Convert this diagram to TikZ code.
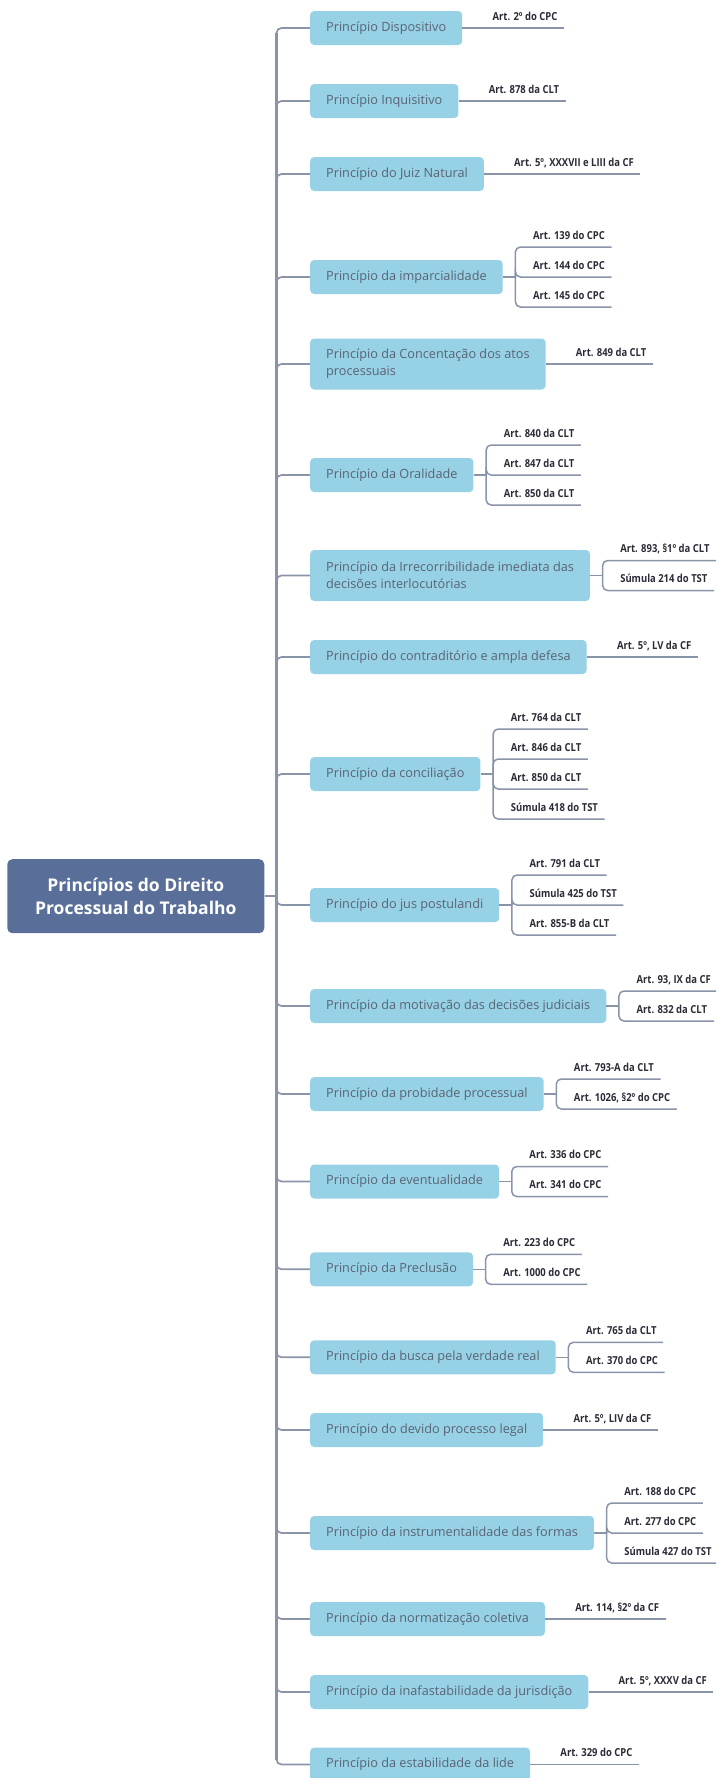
\documentclass[tikz,border=0pt]{standalone}
\usepackage{fontspec}
\setmainfont{Open Sans}
\newfontfamily\lblfont{Open Sans}[FakeStretch=0.86]
\usetikzlibrary{calc}
\definecolor{boxfill}{HTML}{96D1E6}
\definecolor{rootfill}{HTML}{596F99}
\definecolor{linec}{HTML}{8A94A8}
\definecolor{boxtext}{HTML}{5A6473}
\definecolor{lbltext}{HTML}{2B2B38}
\begin{document}
\begin{tikzpicture}[x=1pt,y=-1pt,
  pbox/.style={fill=boxfill, rounded corners=4pt, inner xsep=16pt, inner ysep=0pt, minimum height=34pt, anchor=west, text=boxtext, font=\fontsize{12.7}{17}\selectfont, align=left},
  pbox2/.style={pbox, minimum height=51pt},
  rootbox/.style={fill=rootfill, rounded corners=5pt, minimum width=257pt, minimum height=74pt, text=white, font=\fontsize{17.5}{23}\selectfont\bfseries, align=center},
  lbl/.style={inner sep=0pt, anchor=base west, text=lbltext, font=\lblfont\bfseries\fontsize{11}{12}\selectfont},
  con/.style={draw=linec, line width=1.7pt, rounded corners=5pt},
  sub/.style={draw=linec, line width=1.5pt, rounded corners=5pt},
]
\path[use as bounding box] (0,0) rectangle (716,1778);
\clip (0,0) rectangle (716,1778);

% root
\node[rootbox] (root) at (135.8,896.2) {Princípios do Direito\\Processual do Trabalho};
\coordinate (tj) at ($(root.east)+(12,0)$);

% principle boxes
\node[pbox] (p1) at (310,28) {Princípio Dispositivo};
\node[pbox] (p2) at (310,101) {Princípio Inquisitivo};
\node[pbox] (p3) at (310,174) {Princípio do Juiz Natural};
\node[pbox] (p4) at (310,277) {Princípio da imparcialidade};
\node[pbox2] (p5) at (310,364) {Princípio da Concentação dos atos\\processuais};
\node[pbox] (p6) at (310,475) {Princípio da Oralidade};
\node[pbox2] (p7) at (310,575.5) {Princípio da Irrecorribilidade imediata das\\decisões interlocutórias};
\node[pbox] (p8) at (310,657) {Princípio do contraditório e ampla defesa};
\node[pbox] (p9) at (310,774) {Princípio da conciliação};
\node[pbox] (p10) at (310,905) {Princípio do jus postulandi};
\node[pbox] (p11) at (310,1006) {Princípio da motivação das decisões judiciais};
\node[pbox] (p12) at (310,1094) {Princípio da probidade processual};
\node[pbox] (p13) at (310,1181.5) {Princípio da eventualidade};
\node[pbox] (p14) at (310,1269.3) {Princípio da Preclusão};
\node[pbox] (p15) at (310,1357.3) {Princípio da busca pela verdade real};
\node[pbox] (p16) at (310,1430) {Princípio do devido processo legal};
\node[pbox] (p17) at (310,1533) {Princípio da instrumentalidade das formas};
\node[pbox] (p18) at (310,1619) {Princípio da normatização coletiva};
\node[pbox] (p19) at (310,1692) {Princípio da inafastabilidade da jurisdição};
\node[pbox] (p20) at (310,1764.5) {Princípio da estabilidade da lide};

% trunk
\draw[con] (root.east) -- (tj);
\foreach \i in {1,...,20} { \draw[con] (tj) |- (p\i.west); }
\draw[draw=linec, line width=2.6pt] ([yshift=-5pt]tj |- p1.west) -- ([yshift=5pt]tj |- p20.west);

% single labels
\foreach \i/\t in {1/{Art. 2º do CPC}, 2/{Art. 878 da CLT}, 3/{Art. 5º, XXXVII e LIII da CF}, 5/{Art. 849 da CLT}, 8/{Art. 5º, LV da CF}, 16/{Art. 5º, LIV da CF}, 18/{Art. 114, §2º da CF}, 19/{Art. 5º, XXXV da CF}, 20/{Art. 329 do CPC}} {
  \node[lbl] (l\i) at ($(p\i.east)+(30,-8)$) {\t};
  \draw[sub] (p\i.east) -- ([xshift=6.5pt]p\i.east -| l\i.east);
}

% bracket points
\foreach \i in {4,6,7,9,10,11,12,13,14,15,17} {
  \coordinate (b\i) at ($(p\i.east)+(12.5,0)$);
  \draw[sub] (p\i.east) -- (b\i);
}

% multi labels: box / name / offset / text
\foreach \i/\n/\d/\t in {
  4/a/-30/{Art. 139 do CPC}, 4/b/0/{Art. 144 do CPC}, 4/c/30/{Art. 145 do CPC},
  6/a/-30/{Art. 840 da CLT}, 6/b/0/{Art. 847 da CLT}, 6/c/30/{Art. 850 da CLT},
  7/a/-15/{Art. 893, §1º da CLT}, 7/b/15/{Súmula 214 do TST},
  9/a/-45/{Art. 764 da CLT}, 9/b/-15/{Art. 846 da CLT}, 9/c/15/{Art. 850 da CLT}, 9/d/45/{Súmula 418 do TST},
  10/a/-30/{Art. 791 da CLT}, 10/b/0/{Súmula 425 do TST}, 10/c/30/{Art. 855-B da CLT},
  11/a/-15/{Art. 93, IX da CF}, 11/b/15/{Art. 832 da CLT},
  12/a/-15/{Art. 793-A da CLT}, 12/b/15/{Art. 1026, §2º do CPC},
  13/a/-15/{Art. 336 do CPC}, 13/b/15/{Art. 341 do CPC},
  14/a/-15/{Art. 223 do CPC}, 14/b/15/{Art. 1000 do CPC},
  15/a/-15/{Art. 765 da CLT}, 15/b/15/{Art. 370 do CPC},
  17/a/-30/{Art. 188 do CPC}, 17/b/0/{Art. 277 do CPC}, 17/c/30/{Súmula 427 do TST}} {
  \node[lbl] (l\i\n) at ($(p\i.east)+(30,\d-8)$) {\t};
  \draw[sub] (b\i) |- ([xshift=6.5pt,yshift=-8pt]l\i\n.base east);
}
\end{tikzpicture}
\end{document}
